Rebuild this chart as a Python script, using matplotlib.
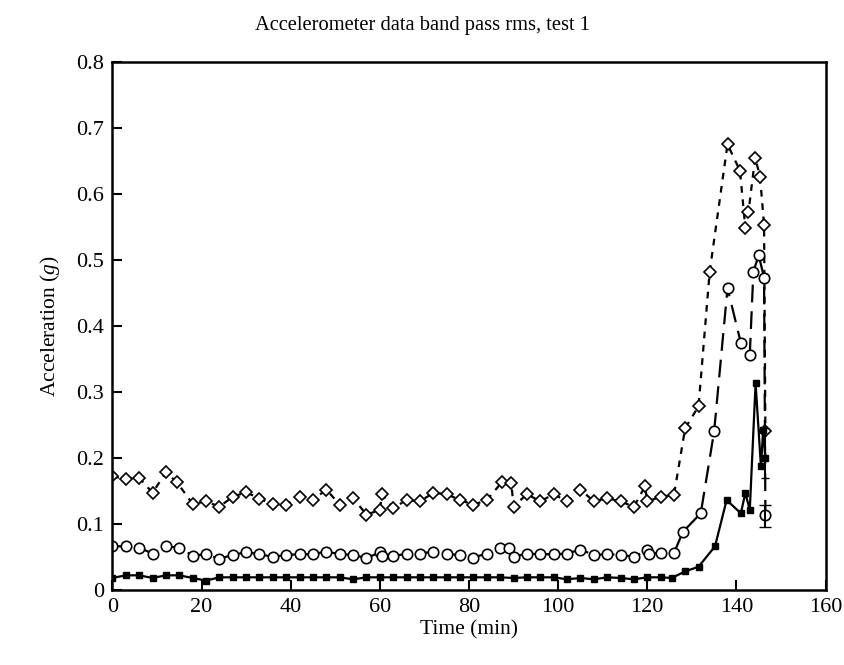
import numpy as np
import matplotlib
matplotlib.use('Agg')
import matplotlib.pyplot as plt

plt.rcParams['font.family'] = ['Liberation Serif', 'DejaVu Serif']
plt.rcParams['mathtext.fontset'] = 'custom'
plt.rcParams['mathtext.it'] = 'Liberation Serif:italic'
plt.rcParams['mathtext.rm'] = 'Liberation Serif'

# Diamond series (short dashes)
t_dia = [0, 3, 6, 9, 12, 14.5, 18, 21, 24, 27, 30, 33, 36, 39, 42, 45, 48, 51,
         54, 57, 60, 60.5, 63, 66, 69, 72, 75, 78, 81, 84, 87.5, 89.5, 90, 93,
         96, 99, 102, 105, 108, 111, 114, 117, 119.5, 120, 123, 126, 128.5,
         131.5, 134, 138, 140.8, 142, 142.7, 144.2, 145.3, 146.2, 146.5]
a_dia = [0.172, 0.168, 0.170, 0.147, 0.178, 0.163, 0.130, 0.134, 0.126, 0.141,
         0.148, 0.138, 0.130, 0.129, 0.141, 0.136, 0.152, 0.129, 0.139, 0.114,
         0.121, 0.145, 0.124, 0.136, 0.134, 0.147, 0.145, 0.136, 0.129, 0.136,
         0.164, 0.162, 0.126, 0.145, 0.134, 0.145, 0.134, 0.152, 0.134, 0.139,
         0.134, 0.126, 0.157, 0.134, 0.141, 0.144, 0.245, 0.278, 0.482, 0.675,
         0.635, 0.548, 0.572, 0.655, 0.626, 0.553, 0.240]

# Circle series (long dashes)
t_cir = [0, 3, 6, 9, 12, 15, 18, 21, 24, 27, 30, 33, 36, 39, 42, 45, 48, 51,
         54, 57, 60, 60.5, 63, 66, 69, 72, 75, 78, 81, 84, 87, 89, 90, 93, 96,
         99, 102, 105, 108, 111, 114, 117, 120, 120.5, 123, 126, 128, 132, 135,
         138, 141, 143, 143.8, 145, 146.2, 146.5]
a_cir = [0.066, 0.066, 0.064, 0.055, 0.066, 0.064, 0.052, 0.054, 0.047, 0.053,
         0.057, 0.054, 0.050, 0.053, 0.054, 0.054, 0.058, 0.054, 0.053, 0.048,
         0.057, 0.051, 0.052, 0.054, 0.055, 0.058, 0.054, 0.053, 0.049, 0.055,
         0.063, 0.064, 0.050, 0.055, 0.054, 0.054, 0.055, 0.061, 0.053, 0.054,
         0.053, 0.050, 0.060, 0.055, 0.056, 0.056, 0.088, 0.116, 0.240, 0.457,
         0.374, 0.356, 0.482, 0.507, 0.473, 0.113]

# Square series (solid)
t_sq = [0, 3, 6, 9, 12, 15, 18, 21, 24, 27, 30, 33, 36, 39, 42, 45, 48, 51,
        54, 57, 60, 63, 66, 69, 72, 75, 78, 81, 84, 87, 90, 93, 96, 99, 102,
        105, 108, 111, 114, 117, 120, 123, 125.5, 128.5, 131.5, 135.2, 137.8,
        141, 142, 143, 144.3, 145.5, 146, 146.5]
a_sq = [0.018, 0.022, 0.022, 0.018, 0.022, 0.022, 0.018, 0.014, 0.019, 0.019,
        0.019, 0.019, 0.019, 0.019, 0.019, 0.019, 0.019, 0.019, 0.016, 0.019,
        0.019, 0.019, 0.019, 0.019, 0.019, 0.019, 0.019, 0.019, 0.019, 0.019,
        0.018, 0.019, 0.019, 0.019, 0.016, 0.018, 0.016, 0.019, 0.018, 0.016,
        0.019, 0.019, 0.018, 0.028, 0.035, 0.066, 0.136, 0.116, 0.147, 0.121,
        0.313, 0.187, 0.242, 0.200]

fig = plt.figure(figsize=(8.45, 6.65), dpi=100)
ax = fig.add_axes([0.133, 0.113, 0.844, 0.794])

ax.plot(t_dia, a_dia, color='black', lw=1.6, dashes=(3, 3),
        marker='D', ms=6, mfc='white', mec='black', mew=1.2)
ax.plot(t_cir, a_cir, color='black', lw=1.6, dashes=(8, 4),
        marker='o', ms=7.5, mfc='white', mec='black', mew=1.2)
ax.plot(t_sq, a_sq, color='black', lw=1.6, ls='-',
        marker='s', ms=4, mfc='black', mec='black')

# error bars on the final readings
ax.errorbar([t_cir[-1]], [a_cir[-1]], yerr=[[0.018], [0.015]], fmt='none',
            ecolor='black', elinewidth=1.5, capsize=4)
ax.errorbar([t_sq[-1]], [a_sq[-1]], yerr=[[0.03], [0.045]], fmt='none',
            ecolor='black', elinewidth=1.5, capsize=3)

ax.set_xlim(0, 160)
ax.set_ylim(0, 0.8)
ax.set_xticks(np.arange(0, 161, 20))
ax.set_yticks(np.arange(0, 0.81, 0.1))
ax.set_yticklabels(['0'] + ['%.1f' % v for v in np.arange(0.1, 0.81, 0.1)])
ax.tick_params(direction='in', length=7, width=1.5, labelsize=16, pad=6)
for s in ax.spines.values():
    s.set_linewidth(1.8)

ax.set_xlabel('Time (min)', fontsize=15.5, labelpad=2)
ax.set_ylabel('Acceleration ($g$)', fontsize=15.5, labelpad=10)
fig.text(0.5, 0.962, 'Accelerometer data band pass rms, test 1',
         fontsize=14.8, ha='center', va='center')

fig.savefig('out.png', dpi=100)
